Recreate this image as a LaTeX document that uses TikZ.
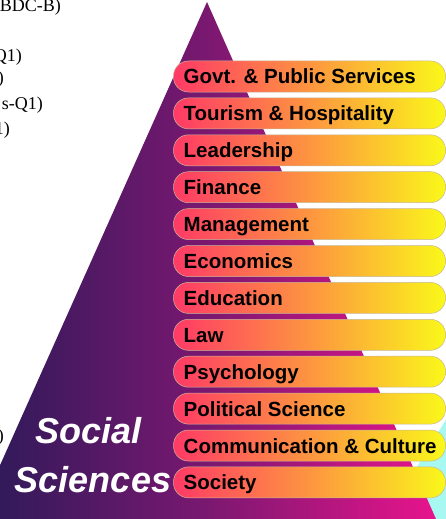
\documentclass[tikz,border=0pt]{standalone}
\usepackage{fontspec}
\setmainfont{Liberation Serif}
\setsansfont{Liberation Sans}
\usetikzlibrary{positioning}

\definecolor{pyrleft}{HTML}{2A1A58}
\definecolor{pyrmid}{HTML}{7A1870}
\definecolor{pyrright}{HTML}{E8148C}
\definecolor{barleft}{HTML}{FF3A66}
\definecolor{barmid}{HTML}{FD9540}
\definecolor{barright}{HTML}{FAF81A}
\definecolor{barline}{HTML}{C8B898}
\definecolor{backcyan}{HTML}{A8F8F2}

\tikzset{
  bar/.style={rectangle, rounded corners=15pt, minimum width=272pt, minimum height=31pt,
    inner sep=0pt, outer sep=0pt, draw=barline, line width=0.5pt,
    left color=barleft, right color=barright, middle color=barmid},
  barlabel/.style={anchor=base west, inner sep=0pt, font=\sffamily\bfseries\fontsize{20.5}{24}\selectfont},
  bigtitle/.style={anchor=base, inner sep=0pt, text=white, font=\sffamily\bfseries\itshape\fontsize{36}{40}\selectfont},
  cutoff/.style={anchor=base east, inner sep=0pt, font=\rmfamily\fontsize{18}{21}\selectfont}
}

\begin{document}
\begin{tikzpicture}[x=1pt, y=-1pt]
  \useasboundingbox (0,0) rectangle (446,519);

  \node[cutoff] (t1) at (61,12)  {BDC-B)};
  \node[cutoff] (t2) at (22,61)  {Q1)};
  \node[cutoff] (t3) at (4,84)   {)};
  \node[cutoff] (t4) at (43,109) {s-Q1)};
  \node[cutoff] (t5) at (10,134) {1)};
  \node[cutoff] (t6) at (4,441)  {)};

  \fill[backcyan] (447,418) -- (385,519) -- (447,519) -- cycle;
  \shade[left color=pyrleft, right color=pyrright, middle color=pyrmid]
    (207,2) -- (436,519) -- (-24,519) -- cycle;

  \node[bar] at (309.5,76.5)    (b1)  {};
  \node[bar, below=5.9pt of b1]  (b2)  {};
  \node[bar, below=5.9pt of b2]  (b3)  {};
  \node[bar, below=5.9pt of b3]  (b4)  {};
  \node[bar, below=5.9pt of b4]  (b5)  {};
  \node[bar, below=5.9pt of b5]  (b6)  {};
  \node[bar, below=5.9pt of b6]  (b7)  {};
  \node[bar, below=5.9pt of b7]  (b8)  {};
  \node[bar, below=5.9pt of b8]  (b9)  {};
  \node[bar, below=5.9pt of b9]  (b10) {};
  \node[bar, below=5.9pt of b10] (b11) {};
  \node[bar, below=5.9pt of b11] (b12) {};

  \node[barlabel] at ([xshift=10pt, yshift=-7.5pt]b1.west)  (l1)  {Govt. \& Public Services};
  \node[barlabel] at ([xshift=10pt, yshift=-7.5pt]b2.west)  (l2)  {Tourism \& Hospitality};
  \node[barlabel] at ([xshift=10pt, yshift=-7.5pt]b3.west)  (l3)  {Leadership};
  \node[barlabel] at ([xshift=10pt, yshift=-7.5pt]b4.west)  (l4)  {Finance};
  \node[barlabel] at ([xshift=10pt, yshift=-7.5pt]b5.west)  (l5)  {Management};
  \node[barlabel] at ([xshift=10pt, yshift=-7.5pt]b6.west)  (l6)  {Economics};
  \node[barlabel] at ([xshift=10pt, yshift=-7.5pt]b7.west)  (l7)  {Education};
  \node[barlabel] at ([xshift=10pt, yshift=-7.5pt]b8.west)  (l8)  {Law};
  \node[barlabel] at ([xshift=10pt, yshift=-7.5pt]b9.west)  (l9)  {Psychology};
  \node[barlabel] at ([xshift=10pt, yshift=-7.5pt]b10.west) (l10) {Political Science};
  \node[barlabel] at ([xshift=10pt, yshift=-7.5pt]b11.west) (l11) {Communication \& Culture};
  \node[barlabel] at ([xshift=10pt, yshift=-7.5pt]b12.west) (l12) {Society};

  \node[bigtitle] at (88.5,443) (social)   {Social};
  \node[bigtitle] at (93,492)   (sciences) {Sciences};
\end{tikzpicture}
\end{document}
